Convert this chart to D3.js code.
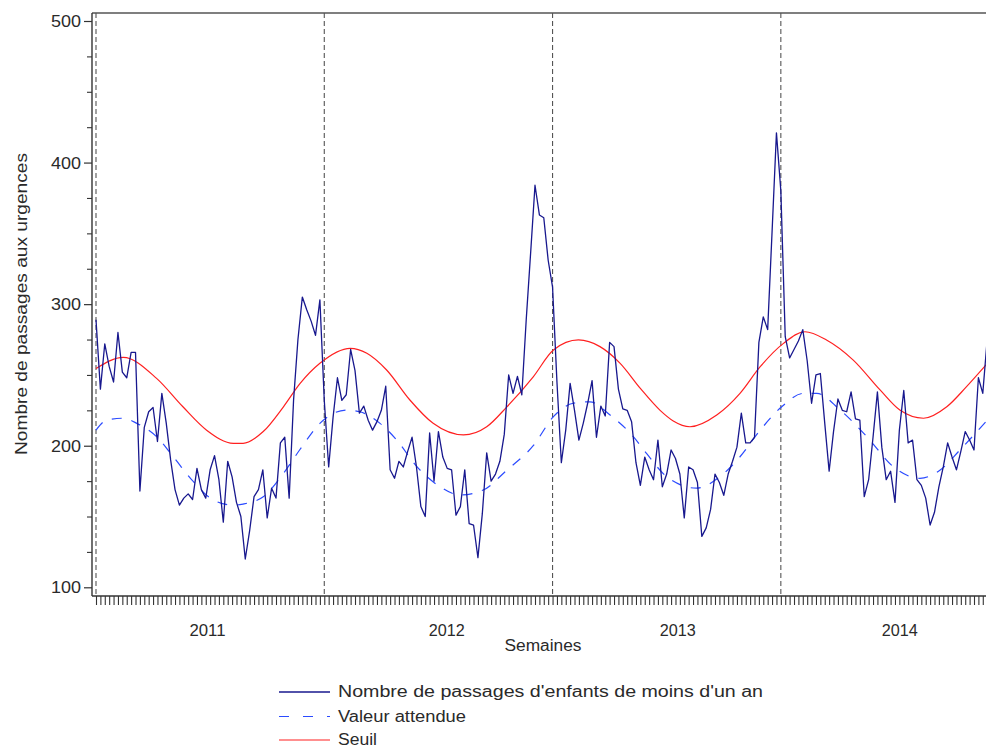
<!DOCTYPE html>
<html>
<head>
<meta charset="utf-8">
<script src="https://cdn.jsdelivr.net/npm/d3@7/dist/d3.min.js"></script>
<style>
  html, body { margin: 0; padding: 0; background: #fff; }
  svg { display: block; }
  text { font-family: "Liberation Sans", Arial, Helvetica, sans-serif; fill: #2a2a2a; }
</style>
</head>
<body>
<svg id="chart" width="986" height="747"></svg>
<script>
// Weekly emergency visits of infants under one year, 2011 to late 2014.
// Week index 0 = first week of 2011.
const observed = [
  289, 240, 272, 256, 245, 280, 252, 248, 266, 266,
  168, 213, 224, 227, 203, 237, 216, 190, 169, 158,
  163, 166, 162, 184, 169, 163, 183, 193, 176, 146,
  189, 178, 160, 150, 120, 140, 164, 169, 183, 149,
  170, 163, 202, 206, 163, 232, 275, 305, 296, 288,
  278, 303, 232, 185, 220, 248, 232, 236, 268, 253,
  223, 228, 218, 211, 217, 225, 242, 183, 177, 189,
  185, 196, 206, 185, 157, 150, 209, 175, 210, 192,
  184, 183, 151, 157, 183, 145, 144, 121, 152, 195,
  175, 180, 189, 208, 250, 237, 249, 236, 289, 336,
  384, 363, 361, 331, 312, 245, 188, 211, 244, 225,
  204, 216, 230, 246, 206, 228, 221, 273, 270, 240,
  226, 225, 217, 188, 172, 192, 183, 176, 204, 171,
  180, 197, 191, 180, 149, 185, 183, 174, 136, 142,
  155, 180, 174, 165, 180, 189, 199, 223, 202, 202,
  206, 273, 291, 282, 351, 421, 380, 277, 262, 268,
  274, 282, 260, 230, 250, 251, 216, 182, 210, 233,
  225, 224, 238, 219, 218, 164, 176, 206, 238, 199,
  176, 182, 160, 211, 239, 202, 204, 176, 172, 163,
  144, 153, 171, 185, 202, 192, 183, 196, 210, 204,
  197, 248, 237, 275
];

// Expected value (baseline model), read at irregular weeks
const expectedWeeks = [0, 2.4, 6.2, 9.3, 13.8, 17.6, 22.2, 26.7, 31.3, 33.5, 38.1, 42.7, 46.5, 51,
  57.1, 60.1, 64.7, 68.5, 73.1, 78.4, 82.9, 88.2, 93.6, 99.6, 104.2, 108.7, 112.5, 117.1, 122.4,
  125.4, 130, 136.8, 142.1, 146.7, 151.3, 156.2, 161.2, 164.2, 169.5, 175.6, 181.6, 187.7, 192.3,
  196.8, 203];
const expectedValues = [211, 218, 219.4, 215.8, 206.4, 192.2, 174.6, 161.7, 158, 158.8, 164, 180.5, 197.5, 215.8,
  225.2, 224, 215.8, 204, 185.2, 171, 165.2, 168.7, 182.8, 200, 220.5, 230, 231, 221.7, 206.4,
  194.6, 178.1, 170, 178.1, 192.2, 211, 227.5, 237, 237, 225.2, 206.4, 185.2, 177, 182.8,
  197, 218];

// Alert threshold, read at irregular weeks
const thresholdWeeks = [0, 6.2, 13.8, 19.8, 25.2, 31.3, 33.5, 38.1, 42.7, 46.5, 51, 57.9, 61.7, 66.2,
  71.5, 76.8, 83.7, 89, 93.6, 99.6, 104.2, 109.9, 114.8, 119.4, 124, 128.5, 131.5, 135.3, 141.4, 146.7,
  151.3, 156.6, 161.5, 166.4, 172.5, 178.6, 183.1, 188.5, 193.8, 198.3, 203];
const thresholdValues = [254.5, 262.4, 247.6, 227.5, 211, 201.7, 201.7, 210, 227.5, 244, 258.2, 268.8, 265.3, 253.5,
  232.3, 215.8, 207.6, 213.4, 227.5, 248.7, 267.6, 274.7, 270, 258.2, 240.5, 225, 217.5, 213.4, 221.7, 237,
  255.8, 272.3, 280.5, 274.7, 260.5, 239.4, 225.2, 219.4, 227.5, 241.7, 258];

// Axis content
const yMajorTicks = [100, 200, 300, 400, 500];
const yMinorTicks = [125, 150, 175, 225, 250, 275, 325, 350, 375, 425, 450, 475];
const yearStartWeeks = [0, 52, 104, 156];
const yearLabels = ["2011", "2012", "2013", "2014"];
const yearLabelWeeks = [25.4, 79.9, 132.5, 183.1];
const legendLabels = ["Nombre de passages d'enfants de moins d'un an", "Valeur attendue", "Seuil"];

// Layout
const frame = { left: 92, top: 13, bottom: 596, right: 990 };
const svg = d3.select("#chart");

const x = d3.scaleLinear().domain([0, 203]).range([96, 96 + 203 * 4.39]);
const y = d3.scaleLinear().domain([100, 500]).range([587.3, 21]);

svg.append("defs").append("clipPath").attr("id", "plotClip")
  .append("rect")
  .attr("x", frame.left).attr("y", frame.top)
  .attr("width", frame.right - frame.left).attr("height", frame.bottom - frame.top);

// Year boundary markers
svg.append("g").selectAll("line").data(yearStartWeeks).join("line")
  .attr("x1", d => x(d)).attr("x2", d => x(d))
  .attr("y1", frame.top).attr("y2", frame.bottom)
  .attr("stroke", "#555").attr("stroke-width", 1.1)
  .attr("stroke-dasharray", "5,3");

const plot = svg.append("g").attr("clip-path", "url(#plotClip)");

// Threshold
plot.append("path")
  .datum(d3.zip(thresholdWeeks, thresholdValues))
  .attr("fill", "none").attr("stroke", "#ff2020").attr("stroke-width", 1.2)
  .attr("d", d3.line().x(d => x(d[0])).y(d => y(d[1])).curve(d3.curveMonotoneX));

// Expected value
plot.append("path")
  .datum(d3.zip(expectedWeeks, expectedValues))
  .attr("fill", "none").attr("stroke", "#2b4bff").attr("stroke-width", 1.2)
  .attr("stroke-dasharray", "10,10")
  .attr("d", d3.line().x(d => x(d[0])).y(d => y(d[1])).curve(d3.curveMonotoneX));

// Observed counts
plot.append("path")
  .datum(observed)
  .attr("fill", "none").attr("stroke", "#18188e").attr("stroke-width", 1.3)
  .attr("stroke-linejoin", "round")
  .attr("d", d3.line().x((d, i) => x(i)).y(d => y(d)));

// Frame: top edge, left and bottom axis lines
svg.append("line").attr("x1", frame.left).attr("x2", frame.right)
  .attr("y1", frame.top).attr("y2", frame.top)
  .attr("stroke", "#555").attr("stroke-width", 1.6);
svg.append("line").attr("x1", frame.left).attr("x2", frame.left)
  .attr("y1", frame.top).attr("y2", frame.bottom)
  .attr("stroke", "#333").attr("stroke-width", 1.4);
svg.append("line").attr("x1", frame.left).attr("x2", frame.right)
  .attr("y1", frame.bottom).attr("y2", frame.bottom)
  .attr("stroke", "#333").attr("stroke-width", 1.4);

// Y axis ticks
const yAxis = svg.append("g").attr("transform", `translate(${frame.left},0)`)
  .call(d3.axisLeft(y).tickValues(yMajorTicks).tickSize(8).tickPadding(4).tickFormat(d3.format("d")));
yAxis.select(".domain").remove();
yAxis.selectAll(".tick line").attr("stroke", "#333").attr("stroke-width", 1.2);
yAxis.selectAll(".tick text")
  .attr("font-family", "Liberation Sans, Arial, sans-serif")
  .attr("font-size", 16).attr("fill", "#2a2a2a")
  .attr("x", -11).attr("dy", "0.35em")
  .attr("textLength", 30).attr("lengthAdjust", "spacingAndGlyphs");

const yMinor = svg.append("g").attr("transform", `translate(${frame.left},0)`)
  .call(d3.axisLeft(y).tickValues(yMinorTicks).tickSize(5).tickFormat(""));
yMinor.select(".domain").remove();
yMinor.selectAll(".tick line").attr("stroke", "#333").attr("stroke-width", 1.1);

// Weekly ticks along the x axis
const xAxis = svg.append("g").attr("transform", `translate(0,${frame.bottom})`)
  .call(d3.axisBottom(x).tickValues(d3.range(0, 204)).tickSize(9).tickFormat(""));
xAxis.select(".domain").remove();
xAxis.selectAll(".tick line").attr("stroke", "#333").attr("stroke-width", 1.1);

// Year labels
svg.append("g").selectAll("text").data(yearLabels).join("text")
  .attr("x", (d, i) => x(yearLabelWeeks[i]))
  .attr("y", 635.5)
  .attr("text-anchor", "middle")
  .attr("font-size", 16)
  .attr("textLength", 36).attr("lengthAdjust", "spacingAndGlyphs")
  .text(d => d);

// Axis titles
svg.append("text")
  .attr("x", 543).attr("y", 651)
  .attr("text-anchor", "middle").attr("font-size", 16)
  .attr("textLength", 77).attr("lengthAdjust", "spacingAndGlyphs")
  .text("Semaines");

svg.append("text")
  .attr("transform", "translate(26.5,304) rotate(-90)")
  .attr("text-anchor", "middle").attr("font-size", 16)
  .attr("textLength", 302).attr("lengthAdjust", "spacingAndGlyphs")
  .text("Nombre de passages aux urgences");

// Legend
const legendStyles = [
  { color: "#18188e", dash: null, width: 1.3 },
  { color: "#2b4bff", dash: "10,14", width: 1.2 },
  { color: "#ff2020", dash: null, width: 1.2 }
];
const legendRowY = [692, 716.5, 740];
const legendTextLen = [425, 128, 39];
const legend = svg.append("g");
legendLabels.forEach((label, i) => {
  legend.append("line")
    .attr("x1", 279).attr("x2", 330)
    .attr("y1", legendRowY[i]).attr("y2", legendRowY[i])
    .attr("stroke", legendStyles[i].color)
    .attr("stroke-width", legendStyles[i].width)
    .attr("stroke-dasharray", legendStyles[i].dash);
  legend.append("text")
    .attr("x", 338).attr("y", legendRowY[i] + 5.4)
    .attr("font-size", 16)
    .attr("textLength", legendTextLen[i]).attr("lengthAdjust", "spacingAndGlyphs")
    .text(label);
});
</script>
</body>
</html>
